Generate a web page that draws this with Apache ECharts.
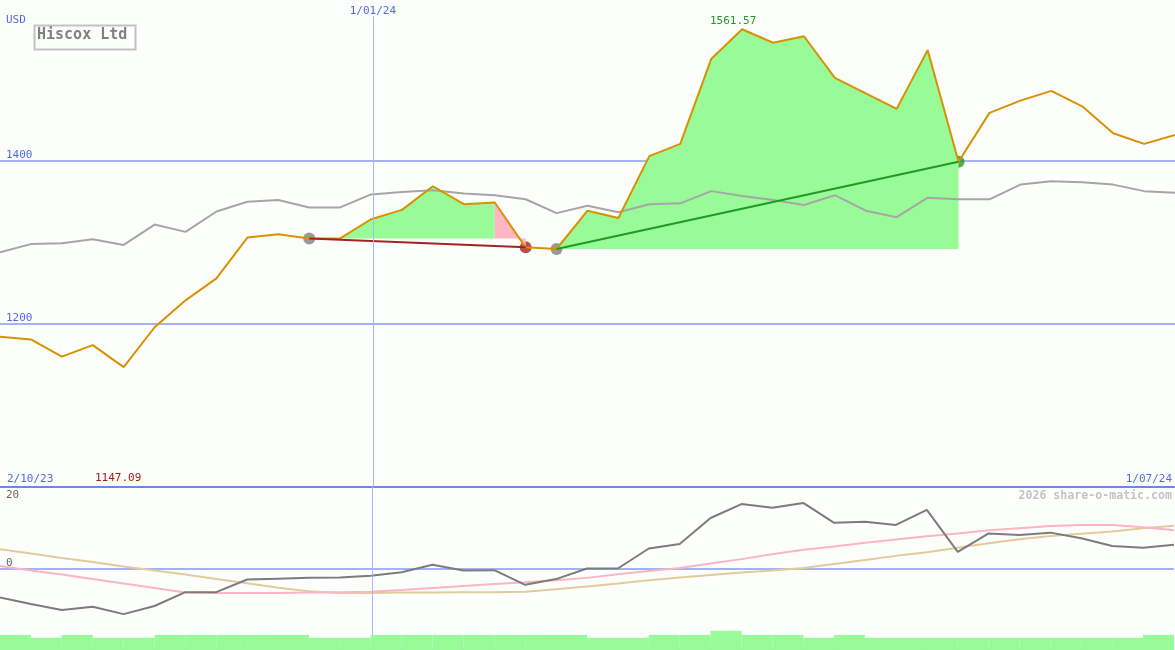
<!DOCTYPE html>
<html>
<head>
<meta charset="utf-8">
<title>Hiscox Ltd</title>
<script src="https://cdn.jsdelivr.net/npm/echarts@6/dist/echarts.min.js"></script>
<style>
    html, body { margin: 0; padding: 0; background: #fcfffc; }
    #chart { width: 1175px; height: 650px; }
</style>
</head>
<body>
<div id="chart"></div>
<script>
// weekly closes, index 0 = 2/10/23
const price = [1184.5, 1181, 1160, 1174, 1147.09, 1196, 1229, 1256, 1306, 1310,
    1305, 1305, 1328.5, 1340, 1369, 1347, 1349, 1294, 1292, 1339,
    1330, 1406, 1421, 1525, 1561.57, 1545, 1553, 1502, 1483, 1464,
    1536, 1399, 1459, 1474, 1486, 1467, 1434, 1421, 1432];
const average = [1288, 1298, 1299, 1304, 1297, 1322, 1313, 1338, 1350, 1352,
    1343, 1343, 1359, 1362, 1364, 1360, 1358, 1353, 1336, 1345,
    1337, 1347, 1348, 1363, 1357, 1352, 1346, 1358, 1339, 1331,
    1355, 1353, 1353, 1371, 1375, 1374, 1371, 1363, 1361];

// lower panel
const momentum = [-7.1, -8.7, -10.2, -9.4, -11.2, -9.2, -5.8, -5.8, -2.7, -2.5,
    -2.3, -2.2, -1.8, -0.9, 0.9, -0.5, -0.4, -4.0, -2.6, 0.0,
    0.0, 4.9, 6.0, 12.4, 15.8, 14.9, 16.1, 11.2, 11.5, 10.7,
    14.4, 4.1, 8.6, 8.2, 8.8, 7.4, 5.5, 5.1, 5.8];
const pinkSignal = [0.6, -0.5, -1.5, -2.6, -3.7, -4.8, -5.9, -6.0, -6.0, -6.0,
    -5.9, -5.8, -5.7, -5.3, -4.8, -4.3, -3.8, -3.4, -2.9, -2.3,
    -1.4, -0.6, 0.1, 1.2, 2.3, 3.5, 4.6, 5.4, 6.3, 7.1,
    7.9, 8.6, 9.4, 9.9, 10.4, 10.7, 10.7, 10.1, 9.4];
const tanSignal = [4.7, 3.7, 2.6, 1.6, 0.5, -0.5, -1.5, -2.6, -3.6, -4.7,
    -5.6, -6.0, -6.0, -5.9, -5.9, -5.8, -5.8, -5.7, -5.1, -4.4,
    -3.7, -2.9, -2.2, -1.6, -1.0, -0.5, 0.1, 1.1, 2.1, 3.1,
    4.0, 5.1, 6.2, 7.2, 8.0, 8.5, 9.1, 9.9, 10.5];
// one bar per week interval, height above the -20 floor
const volumeBars = [3.7, 3.0, 3.7, 3.0, 3.0, 3.7, 3.7, 3.7, 3.7, 3.7,
    3.0, 3.0, 3.7, 3.7, 3.7, 3.7, 3.7, 3.7, 3.7, 3.0,
    3.0, 3.7, 3.7, 4.7, 3.7, 3.7, 3.0, 3.7, 3.0, 3.0,
    3.0, 3.0, 3.0, 3.0, 3.0, 3.0, 3.0, 3.7];

const dateLabels = ['2/10/23', '1/01/24', '1/07/24'];
const yearMark = 12.06;           // position of 1/01/24
const downTrend = [10, 17];       // gray dot -> red dot
const upTrend = [18, 31];         // gray dot -> green dot

const mono = 'DejaVu Sans Mono';
const blue = '#5566ee';
const gridBlue = '#a4b2f2';

const pts = (arr, from, to) => {
    const out = [];
    for (let i = from; i <= to; i++) out.push([i, arr[i]]);
    return out;
};

const peakIdx = price.indexOf(Math.max(...price));
const lowValue = Math.min(...price);

const chart = echarts.init(document.getElementById('chart'));

chart.setOption({
    animation: false,
    backgroundColor: '#fcfffc',
    grid: [
        { left: 0, right: 0, top: 0, height: 487 },
        { left: 0, right: 0, top: 487, height: 163 }
    ],
    xAxis: [
        { type: 'value', gridIndex: 0, min: 0, max: 38, show: false },
        {
            type: 'value', gridIndex: 1, min: 0, max: 38, interval: 38,
            position: 'top',
            axisLine: { show: true, onZero: false, lineStyle: { color: '#7383ea', width: 2 } },
            axisTick: { show: false },
            splitLine: { show: false },
            axisLabel: {
                margin: 2,
                color: blue,
                fontFamily: mono,
                fontSize: 11,
                alignMinLabel: 'left',
                alignMaxLabel: 'right',
                formatter: v => v === 0 ? '{l|' + dateLabels[0] + '}' : '{r|' + dateLabels[2] + '}',
                rich: {
                    l: { padding: [0, 0, 0, 7], color: blue, fontFamily: mono, fontSize: 11 },
                    r: { padding: [0, 2, 0, 0], color: blue, fontFamily: mono, fontSize: 11 }
                }
            }
        }
    ],
    yAxis: [
        {
            type: 'value', gridIndex: 0, min: 1000, max: 1597.5, interval: 200,
            axisLine: { show: false }, axisTick: { show: false },
            splitLine: { showMaxLine: false, lineStyle: { color: gridBlue, width: 2 } },
            axisLabel: {
                inside: true, margin: 6, verticalAlign: 'bottom',
                color: blue, fontFamily: mono, fontSize: 11,
                formatter: v => (v === 1200 || v === 1400) ? String(v) : ''
            }
        },
        {
            type: 'value', gridIndex: 1, min: -20, max: 20, interval: 20,
            axisLine: { show: false }, axisTick: { show: false },
            splitLine: { lineStyle: { color: gridBlue, width: 2 } },
            axisLabel: {
                inside: true, margin: 6, verticalAlign: 'bottom',
                color: '#666', fontFamily: mono, fontSize: 11,
                formatter: v => (v === 0 || v === -20) ? String(v) : ''
            }
        },
        { type: 'value', gridIndex: 1, min: 0, max: 40, show: false }
    ],
    graphic: [
        {
            type: 'text', left: 6, top: 15,
            style: { text: 'USD', fill: blue, font: '11px ' + mono }
        },
        {
            type: 'rect', left: 32, top: 23,
            shape: { width: 101, height: 24 },
            style: { fill: 'none', stroke: '#c2c2c2', lineWidth: 2 }
        },
        {
            type: 'text', left: 37, top: 28,
            style: { text: 'Hiscox Ltd', fill: '#808080', font: 'bold 15px ' + mono }
        },
        {
            type: 'text', left: 6, top: 490,
            style: { text: '20', fill: '#666', font: '11px ' + mono }
        },
        {
            type: 'text', left: 95, top: 473,
            style: { text: lowValue.toFixed(2), fill: '#a01c1c', font: '11px ' + mono }
        },
        {
            type: 'text', right: 3, top: 490,
            style: { text: '2026 share-o-matic.com', fill: '#c4c4c4', font: 'bold 11.6px ' + mono }
        }
    ],
    series: [
        // fills
        {
            type: 'line', xAxisIndex: 0, yAxisIndex: 0,
            data: pts(price, downTrend[0] + 1, downTrend[1] - 1),
            symbol: 'none', lineStyle: { width: 0 },
            areaStyle: { color: '#98fb98', opacity: 1, origin: price[downTrend[0]] }
        },
        {
            type: 'line', xAxisIndex: 0, yAxisIndex: 0,
            data: pts(price, downTrend[1] - 1, downTrend[1]),
            symbol: 'none', lineStyle: { width: 0 },
            areaStyle: { color: '#ffb6c1', opacity: 1, origin: price[downTrend[0]] }
        },
        {
            type: 'line', xAxisIndex: 0, yAxisIndex: 0,
            data: pts(price, upTrend[0], upTrend[1]),
            symbol: 'none', lineStyle: { width: 0 },
            areaStyle: { color: '#98fb98', opacity: 1, origin: price[upTrend[0]] }
        },
        {
            type: 'line', xAxisIndex: 0, yAxisIndex: 0,
            data: pts(average, 0, average.length - 1),
            symbol: 'none', lineStyle: { color: '#a6a6a6', width: 2 },
            markLine: {
                silent: true, symbol: ['none', 'none'],
                lineStyle: { color: '#a8b6fa', width: 1, type: 'solid' },
                label: { show: true, position: 'end', distance: 0, color: blue, fontFamily: mono, fontSize: 11, formatter: dateLabels[1] },
                data: [[{ coord: [yearMark, 1000] }, { coord: [yearMark, 1577.5] }]]
            }
        },
        {
            type: 'line', xAxisIndex: 0, yAxisIndex: 0,
            data: pts(price, 0, price.length - 1),
            symbol: 'none', lineStyle: { color: '#d99100', width: 2 },
            markPoint: {
                symbol: 'circle', symbolSize: 0,
                label: { show: true, position: 'top', distance: 3, offset: [-9, 0], color: '#229922', fontFamily: mono, fontSize: 11 },
                data: [{ coord: [peakIdx, price[peakIdx]], value: price[peakIdx].toFixed(2) }]
            }
        },
        {
            type: 'line', xAxisIndex: 0, yAxisIndex: 0,
            data: [[downTrend[0], price[downTrend[0]]], [downTrend[1], price[downTrend[1]]]],
            symbol: 'none', lineStyle: { color: '#a52222', width: 2 }
        },
        {
            type: 'line', xAxisIndex: 0, yAxisIndex: 0,
            data: [[upTrend[0], price[upTrend[0]]], [upTrend[1], price[upTrend[1]]]],
            symbol: 'none', lineStyle: { color: '#229922', width: 2 }
        },
        {
            type: 'scatter', xAxisIndex: 0, yAxisIndex: 0,
            symbolSize: 12,
            data: [
                { value: [downTrend[0], price[downTrend[0]]], itemStyle: { color: '#808080' } },
                { value: [downTrend[1], price[downTrend[1]]], itemStyle: { color: '#a52222' } },
                { value: [upTrend[0], price[upTrend[0]]], itemStyle: { color: '#808080' } },
                { value: [upTrend[1], price[upTrend[1]]], itemStyle: { color: '#229922' } }
            ]
        },
        // lower panel
        {
            type: 'line', xAxisIndex: 1, yAxisIndex: 1,
            data: pts(tanSignal, 0, tanSignal.length - 1),
            symbol: 'none', lineStyle: { color: '#e2cc9c', width: 2 },
            markLine: {
                silent: true, symbol: ['none', 'none'], label: { show: false },
                lineStyle: { color: '#a8b6fa', width: 1, type: 'solid' },
                data: [[{ coord: [yearMark, -20] }, { coord: [yearMark, 20] }]]
            }
        },
        {
            type: 'line', xAxisIndex: 1, yAxisIndex: 1,
            data: pts(pinkSignal, 0, pinkSignal.length - 1),
            symbol: 'none', lineStyle: { color: '#ffb4c4', width: 2 }
        },
        {
            type: 'line', xAxisIndex: 1, yAxisIndex: 1,
            data: pts(momentum, 0, momentum.length - 1),
            symbol: 'none', lineStyle: { color: '#7c7c7c', width: 2 }
        },
        {
            type: 'bar', xAxisIndex: 1, yAxisIndex: 2, z: 5,
            barWidth: 31,
            itemStyle: { color: '#98fb98' },
            data: volumeBars.map((v, i) => [i + 0.5, v])
        }
    ]
});
</script>
</body>
</html>
